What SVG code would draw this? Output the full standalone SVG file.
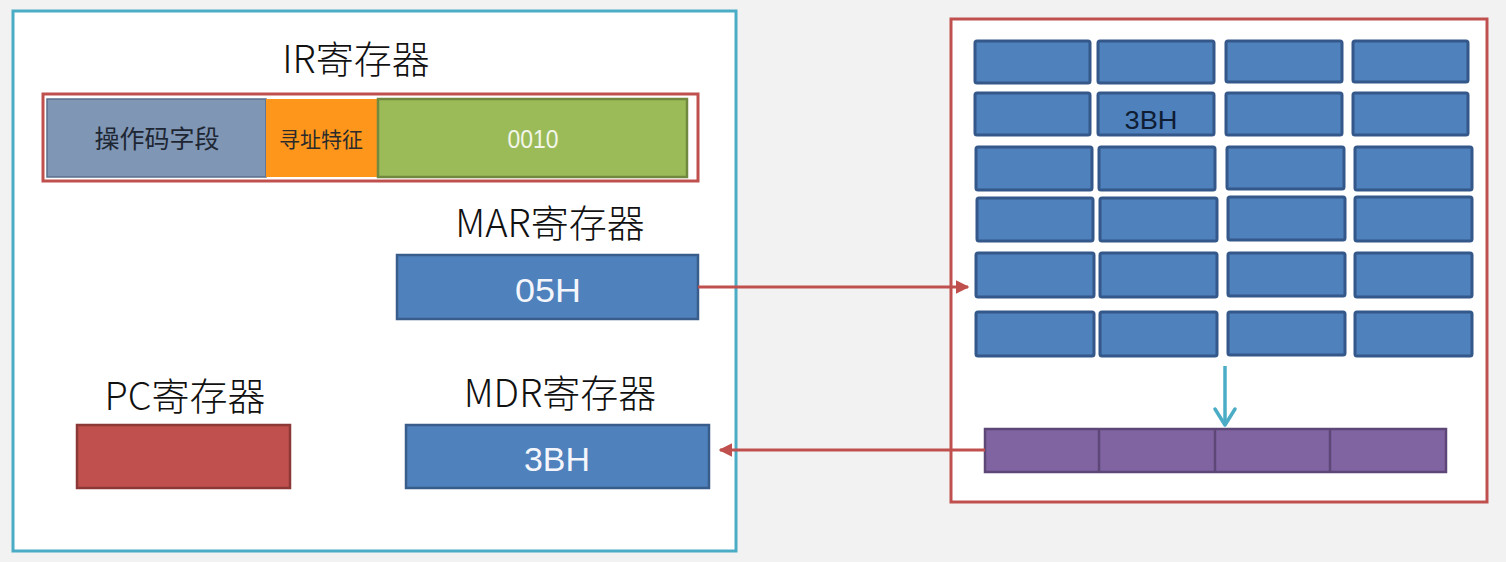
<svg xmlns="http://www.w3.org/2000/svg" width="1506" height="562" viewBox="0 0 1506 562">
  <style>
    .title { font-family: "Noto Sans CJK SC", "Liberation Sans", sans-serif; font-size: 38px; fill: #111; text-anchor: middle; font-weight: 300; }
    .val { font-family: "Liberation Sans", "Noto Sans CJK SC", sans-serif; font-size: 33px; fill: #f4f6fb; text-anchor: middle; }
    .field { font-family: "Noto Sans CJK SC", sans-serif; text-anchor: middle; }
    .cell { fill: #4f81bd; stroke: #35588a; stroke-width: 3; }
    .reg { stroke-width: 2.5; }
    .link { fill: none; stroke: #c0504d; stroke-width: 3; }
  </style>
  <defs>
    <marker id="redHead" viewBox="0 0 10 10" refX="9" refY="5" markerWidth="4.5" markerHeight="4.5" orient="auto">
      <path d="M0,0 L10,5 L0,10 Z" fill="#c0504d"/>
    </marker>
  </defs>

  <!-- background -->
  <rect x="0" y="0" width="1506" height="562" fill="#f2f2f2"/>

  <!-- CPU panel -->
  <g id="cpu">
    <rect x="13" y="11" width="723" height="540" fill="#ffffff" stroke="#4bacc6" stroke-width="3"/>
  </g>

  <!-- memory panel -->
  <g id="memory">
    <rect x="951" y="19" width="536" height="483" fill="#ffffff" stroke="#c0504d" stroke-width="3"/>
  </g>

  <!-- IR register -->
  <g id="ir">
    <text class="title" x="356" y="73">IR寄存器</text>
    <rect x="43" y="94" width="655" height="87" fill="#ffffff" stroke="#c0504d" stroke-width="3"/>
    <rect x="47" y="99" width="219" height="78" fill="#7f96b4" stroke="#5a6f8c" stroke-width="1.5"/>
    <rect x="266" y="99" width="112" height="78" fill="#fd961b"/>
    <rect x="378" y="99" width="309" height="78" fill="#9bbb59" stroke="#71893f" stroke-width="2.5"/>
    <text class="field" x="157" y="148" font-size="25" fill="#1e2633">操作码字段</text>
    <text class="field" x="321" y="147" font-size="21" fill="#2b2b2b">寻址特征</text>
    <text x="533" y="148" font-family="Liberation Sans, sans-serif" font-size="25" fill="#f2f6ea" text-anchor="middle" textLength="51" lengthAdjust="spacingAndGlyphs">0010</text>
  </g>

  <!-- MAR register -->
  <g id="mar">
    <text class="title" x="550" y="237">MAR寄存器</text>
    <rect class="reg" x="397" y="255" width="301" height="64" fill="#4f81bd" stroke="#385d8a"/>
    <text class="val" x="548" y="302" textLength="66" lengthAdjust="spacingAndGlyphs">05H</text>
  </g>

  <!-- PC register -->
  <g id="pc">
    <text class="title" x="185" y="410">PC寄存器</text>
    <rect class="reg" x="77" y="425" width="213" height="63" fill="#c0504d" stroke="#8c3836"/>
  </g>

  <!-- MDR register -->
  <g id="mdr">
    <text class="title" x="560" y="407">MDR寄存器</text>
    <rect class="reg" x="406" y="425" width="303" height="63" fill="#4f81bd" stroke="#385d8a"/>
    <text class="val" x="557" y="471" textLength="66" lengthAdjust="spacingAndGlyphs">3BH</text>
  </g>

  <!-- memory cells -->
  <g id="cells">
    <rect class="cell" x="975" y="41" width="115" height="42" rx="2"/>
    <rect class="cell" x="1098" y="41" width="116" height="42" rx="2"/>
    <rect class="cell" x="1226" y="41" width="116" height="41" rx="2"/>
    <rect class="cell" x="1353" y="41" width="115" height="41" rx="2"/>

    <rect class="cell" x="975" y="93" width="115" height="42" rx="2"/>
    <rect class="cell" x="1098" y="93" width="116" height="42" rx="2"/>
    <rect class="cell" x="1226" y="93" width="116" height="42" rx="2"/>
    <rect class="cell" x="1353" y="93" width="115" height="42" rx="2"/>

    <rect class="cell" x="976" y="147" width="116" height="43" rx="2"/>
    <rect class="cell" x="1099" y="147" width="116" height="43" rx="2"/>
    <rect class="cell" x="1227" y="147" width="117" height="42" rx="2"/>
    <rect class="cell" x="1355" y="147" width="117" height="43" rx="2"/>

    <rect class="cell" x="977" y="198" width="116" height="43" rx="2"/>
    <rect class="cell" x="1100" y="198" width="117" height="43" rx="2"/>
    <rect class="cell" x="1228" y="197" width="117" height="43" rx="2"/>
    <rect class="cell" x="1355" y="197" width="117" height="44" rx="2"/>

    <rect class="cell" x="976" y="253" width="118" height="44" rx="2"/>
    <rect class="cell" x="1100" y="253" width="117" height="44" rx="2"/>
    <rect class="cell" x="1228" y="253" width="117" height="43" rx="2"/>
    <rect class="cell" x="1355" y="253" width="117" height="44" rx="2"/>

    <rect class="cell" x="976" y="312" width="118" height="44" rx="2"/>
    <rect class="cell" x="1100" y="312" width="117" height="44" rx="2"/>
    <rect class="cell" x="1228" y="312" width="117" height="43" rx="2"/>
    <rect class="cell" x="1355" y="312" width="117" height="44" rx="2"/>

    <text x="1151" y="129" font-family="Liberation Sans, sans-serif" font-size="26" fill="#0f1d33" text-anchor="middle" textLength="53" lengthAdjust="spacingAndGlyphs">3BH</text>
  </g>

  <!-- memory data buffer -->
  <g id="buffer">
    <rect x="985" y="429" width="461" height="43" fill="#8064a2" stroke="#5c4776" stroke-width="2.5"/>
    <line x1="1099" y1="429" x2="1099" y2="472" stroke="#5c4776" stroke-width="2.5"/>
    <line x1="1215" y1="429" x2="1215" y2="472" stroke="#5c4776" stroke-width="2.5"/>
    <line x1="1330" y1="429" x2="1330" y2="472" stroke="#5c4776" stroke-width="2.5"/>
  </g>

  <!-- connectors -->
  <g id="connectors">
    <line class="link" x1="698" y1="287" x2="968" y2="287" marker-end="url(#redHead)"/>
    <line class="link" x1="985" y1="450" x2="720" y2="450" marker-end="url(#redHead)"/>
    <line x1="1225" y1="366" x2="1225" y2="425" stroke="#4bacc6" stroke-width="3.5"/>
    <path d="M1215,409 L1225,425 L1235,409" fill="none" stroke="#4bacc6" stroke-width="3.5" stroke-linejoin="round" stroke-linecap="round"/>
  </g>
</svg>
